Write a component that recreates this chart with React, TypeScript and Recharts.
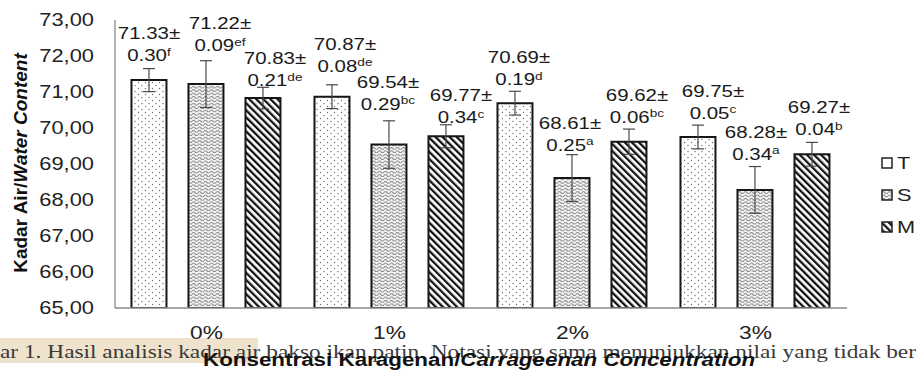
import React from 'react';
import { BarChart, Bar, XAxis, YAxis, ErrorBar, LabelList } from 'recharts';

// ---- data ----
const categories = ['0%', '1%', '2%', '3%'];
const valuesT = [71.33, 70.87, 70.69, 69.75];
const valuesS = [71.22, 69.54, 68.61, 68.28];
const valuesM = [70.83, 69.77, 69.62, 69.27];
const sdT = [0.3, 0.08, 0.19, 0.05];
const sdS = [0.09, 0.29, 0.25, 0.34];
const sdM = [0.21, 0.34, 0.06, 0.04];
const lettersT = ['f', 'de', 'd', 'c'];
const lettersS = ['ef', 'bc', 'a', 'a'];
const lettersM = ['de', 'c', 'bc', 'b'];
// error bar half-lengths as drawn in the figure
const errT = [0.32, 0.33, 0.33, 0.33];
const errS = [0.65, 0.66, 0.65, 0.65];
const errM = [0.3, 0.32, 0.35, 0.33];
const yTicks = [65, 66, 67, 68, 69, 70, 71, 72, 73];
const seriesNames = ['T', 'S', 'M'];
const yTitleA = 'Kadar Air/';
const yTitleB = 'Water Content';
const xTitleA = 'Konsentrasi Karagenan/';
const xTitleB = 'Carrageenan Concentration';
const captionText =
  'ar 1. Hasil analisis kadar air bakso ikan patin. Notasi yang sama menunjukkan nilai yang tidak ber';

const data = categories.map((c, i) => ({
  category: c,
  T: valuesT[i],
  S: valuesS[i],
  M: valuesM[i],
  errT: errT[i],
  errS: errS[i],
  errM: errM[i],
}));

const valueMap: Record<string, number[]> = { T: valuesT, S: valuesS, M: valuesM };
const sdMap: Record<string, number[]> = { T: sdT, S: sdS, M: sdM };
const letterMap: Record<string, string[]> = { T: lettersT, S: lettersS, M: lettersM };

// ---- layout (label nudges, px) ----
const labelShift: Record<string, { dx: number[]; dy: number[] }> = {
  T: { dx: [0, 13, 4, 15], dy: [-47, -53, -46, -46] },
  S: { dx: [14, -1, -2, 1], dy: [-61, -63, -55, -58] },
  M: { dx: [12, 15, 8, 7], dy: [-40, -41, -47, -47] },
};

const SANS = 'Liberation Sans, Arial, sans-serif';
const W = 916;
const H = 371;

const fillFor: Record<string, string> = {
  T: 'url(#patDots)',
  S: 'url(#patWave)',
  M: 'url(#patStripes)',
};

const Patterns = ({ prefix }: { prefix: string }) => (
  <defs>
    <pattern id={`${prefix}Dots`} width="7" height="6" patternUnits="userSpaceOnUse">
      <rect width="7" height="6" fill="#fff" />
      <circle cx="2" cy="1.5" r="0.65" fill="#6a6a6a" />
      <circle cx="5.5" cy="4.5" r="0.65" fill="#6a6a6a" />
    </pattern>
    <pattern id={`${prefix}Wave`} width="6" height="3.4" patternUnits="userSpaceOnUse">
      <rect width="6" height="3.4" fill="#f4f4f4" />
      <path d="M0 2.2 Q1.5 0.2 3 2.2 T6 2.2" fill="none" stroke="#7a7a7a" strokeWidth="0.9" />
    </pattern>
    <pattern
      id={`${prefix}Stripes`}
      width="5"
      height="5"
      patternUnits="userSpaceOnUse"
      patternTransform="rotate(-45)"
    >
      <rect width="5" height="5" fill="#fff" />
      <rect width="2.3" height="5" fill="#111" />
    </pattern>
  </defs>
);

const makeLabel = (key: string) => (props: any) => {
  const vb = props.viewBox && props.viewBox.width != null ? props.viewBox : props;
  const index = props.index;
  if (index == null) return null;
  const x = Number(vb.x);
  const y = Number(vb.y);
  const w = Number(vb.width);
  const cx = x + w / 2 + labelShift[key].dx[index];
  const cy = y + labelShift[key].dy[index];
  const v = valueMap[key][index].toFixed(2);
  const sd = sdMap[key][index].toFixed(2);
  const letter = letterMap[key][index];
  return (
    <g>
      <g transform={`translate(${cx},${cy}) scale(1.24,1)`}>
        <text x={0} y={0} dy="0.36em" textAnchor="middle" fontSize={16.5} fontFamily={SANS} fill="#1a1a1a">
          {v}±
        </text>
      </g>
      <g transform={`translate(${cx},${cy + 22}) scale(1.24,1)`}>
        <text x={0} y={0} dy="0.36em" textAnchor="middle" fontSize={16.5} fontFamily={SANS} fill="#1a1a1a">
          {sd}
          <tspan fontSize={11} dy="-0.5em">
            {letter}
          </tspan>
        </text>
      </g>
    </g>
  );
};

const YTick = (props: any) => {
  const { x, y, payload } = props;
  const txt = Number(payload.value).toFixed(2).replace('.', ',');
  return (
    <g transform={`translate(${x},${y}) scale(1.25,1)`}>
      <text x={0} y={0} dy="0.36em" textAnchor="end" fontSize={17.5} fontFamily={SANS} fill="#222">
        {txt}
      </text>
    </g>
  );
};

const XTick = (props: any) => {
  const { x, y, payload } = props;
  return (
    <g transform={`translate(${x},${y + 25}) scale(1.3,1)`}>
      <text x={0} y={0} dy="0.36em" textAnchor="middle" fontSize={17.5} fontFamily={SANS} fill="#222">
        {payload.value}
      </text>
    </g>
  );
};

const XTitle = (props: any) => {
  const vb = props.viewBox || { x: 115, y: 308, width: 732, height: 30 };
  const cx = vb.x + vb.width / 2 - 2;
  const by = vb.y + 58;
  return (
    <g transform={`translate(${cx},${by}) scale(1.28,1)`}>
      <text x={0} y={0} textAnchor="middle" fontSize={17.5} fontWeight="bold" fontFamily={SANS} fill="#111">
        {xTitleA}
        <tspan fontStyle="italic">{xTitleB}</tspan>
      </text>
    </g>
  );
};

const YTitle = (props: any) => {
  const vb = props.viewBox || { x: 55, y: 20, width: 60, height: 288 };
  const cy = vb.y + vb.height / 2 - 1;
  return (
    <text
      transform={`translate(27,${cy}) rotate(-90)`}
      x={0}
      y={0}
      textAnchor="middle"
      fontSize={19}
      fontWeight="bold"
      fontFamily={SANS}
      fill="#111"
    >
      {yTitleA}
      <tspan fontStyle="italic">{yTitleB}</tspan>
    </text>
  );
};

const legendY = [163, 195, 227];
const legendFill: Record<string, string> = {
  T: '#fff',
  S: 'url(#lgWave)',
  M: 'url(#lgStripes)',
};

export default function App() {
  return (
    <div style={{ position: 'relative', width: W, height: H, overflow: 'hidden', background: '#fff' }}>
      <style>{'body{margin:0;}'}</style>
      {/* caption from the surrounding document */}
      <svg width={W} height={H} style={{ position: 'absolute', left: 0, top: 0 }}>
        <rect x={0} y={338} width={258} height={25} fill="#efe3cd" />
        <text
          x={0}
          y={358}
          fontSize={18.5}
          fontFamily="Liberation Serif, Times New Roman, serif"
          fill="#3a3a3a"
          textLength={916}
          lengthAdjust="spacingAndGlyphs"
        >
          {captionText}
        </text>
      </svg>
      <div style={{ position: 'absolute', left: 0, top: 0 }}>
        <BarChart
          width={W}
          height={H}
          data={data}
          margin={{ top: 20, right: 69, left: 55, bottom: 33 }}
          barCategoryGap="9%"
          barGap={22}
        >
          <Patterns prefix="pat" />
          <XAxis
            dataKey="category"
            height={30}
            tickLine={false}
            tickSize={0}
            tickMargin={0}
            axisLine={{ stroke: '#8a8a8a', strokeWidth: 1.3 }}
            tick={<XTick />}
            label={<XTitle />}
            interval={0}
          />
          <YAxis
            width={60}
            domain={[65, 73]}
            ticks={yTicks}
            allowDataOverflow
            tickLine={false}
            tickSize={0}
            tickMargin={21}
            axisLine={{ stroke: '#8a8a8a', strokeWidth: 1.3 }}
            tick={<YTick />}
            label={<YTitle />}
          />
          {seriesNames.map((key) => (
            <Bar
              key={key}
              dataKey={key}
              name={key}
              fill={fillFor[key]}
              stroke="#161616"
              strokeWidth={2}
              isAnimationActive={false}
            >
              <ErrorBar dataKey={`err${key}`} width={6} stroke="#4a4a4a" strokeWidth={1.2} />
              <LabelList dataKey={key} content={makeLabel(key)} />
            </Bar>
          ))}
        </BarChart>
      </div>
      {/* legend */}
      <svg width={W} height={H} style={{ position: 'absolute', left: 0, top: 0, pointerEvents: 'none' }}>
        <Patterns prefix="lg" />
        {seriesNames.map((key, i) => (
          <g key={key}>
            <rect
              x={882}
              y={legendY[i] - 5}
              width={10}
              height={10}
              fill={legendFill[key]}
              stroke="#222"
              strokeWidth={1.5}
            />
            <g transform={`translate(897,${legendY[i]}) scale(1.28,1)`}>
              <text x={0} y={0} dy="0.36em" fontSize={17} fontFamily={SANS} fill="#222">
                {key}
              </text>
            </g>
          </g>
        ))}
      </svg>
    </div>
  );
}
